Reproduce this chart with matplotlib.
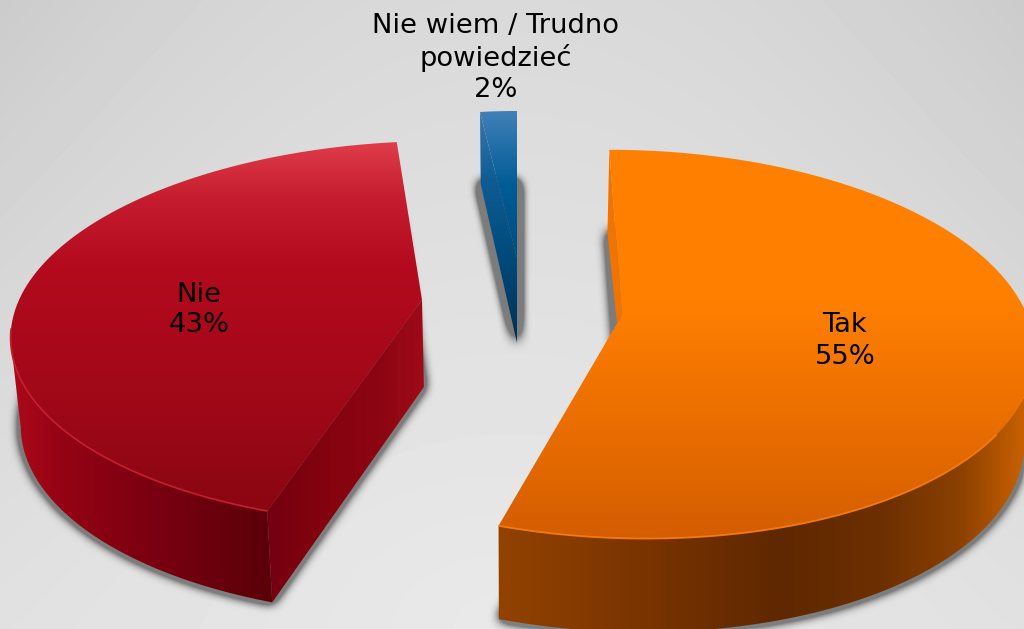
import numpy as np
import matplotlib
matplotlib.use('Agg')
import matplotlib.pyplot as plt
from matplotlib.colors import LinearSegmentedColormap
from matplotlib.patches import Polygon
from matplotlib.path import Path

# dane z wykresu
kategorie = ['Tak', 'Nie', 'Nie wiem / Trudno\npowiedzieć']
wartosci = [55, 43, 2]

W, H = 1024, 629
SRODEK_X = 517

# wyglad kawalkow: wierzcholek, promienie, perspektywa, pochylenie, grubosc, sila cienia
wyglad = [
    dict(apex=(622, 315), rx=405, ry=190, p=0.15, a=0.09, b=0.8e-4, d=88, q=0.06, c=4.0),
    dict(apex=(422, 300), rx=403, ry=186, p=0.17, a=-0.0777, b=2.29e-4, d=87, q=0.05, c=4.0),
    dict(apex=(517, 258), rx=345, ry=172, p=0.17, a=0.0, b=0.0, d=85, q=0.18, c=9.0),
]


def gora(t, g):
    c = np.cos(t)
    m = 1 + g['p'] * c
    dy = -g['ry'] * c / m
    dx = g['rx'] * np.sin(t) / m + g['a'] * dy + g['b'] * dy * dy
    return g['apex'][0] + dx, g['apex'][1] + dy


def dol(x, y, t, g):
    xd = SRODEK_X + (x - SRODEK_X) * 0.98
    yd = y + g['d'] / (1 + g['q'] * np.cos(t))
    return xd, yd


def gradient(ax, wielokat, os_, stopnie):
    # stopnie: [(pozycja w pikselach, kolor), ...]
    poz = np.array([a for a, b in stopnie], dtype=float)
    n = (poz - poz[0]) / (poz[-1] - poz[0])
    cmap = LinearSegmentedColormap.from_list('g', list(zip(n, [b for a, b in stopnie])))
    if os_ == 'y':
        obraz = np.linspace(0, 1, 256).reshape(-1, 1)
        ext = (0, W, poz[-1], poz[0])
    else:
        obraz = np.linspace(0, 1, 256).reshape(1, -1)
        ext = (poz[0], poz[-1], H, 0)
    im = ax.imshow(obraz, cmap=cmap, extent=ext, aspect='auto', vmin=0, vmax=1,
                   interpolation='bilinear', origin='upper')
    patch = Polygon(wielokat, closed=True, transform=ax.transData, fc='none', ec='none')
    ax.add_patch(patch)
    im.set_clip_path(patch)


def rozmycie(a, r):
    for _ in range(3):
        for os_ in (0, 1):
            k = np.cumsum(a, axis=os_)
            k = np.insert(k, 0, 0, axis=os_)
            n = a.shape[os_]
            i1 = np.clip(np.arange(n) + r + 1, 0, n)
            i0 = np.clip(np.arange(n) - r, 0, n)
            a = (np.take(k, i1, axis=os_) - np.take(k, i0, axis=os_)) / (2 * r + 1)
    return a


fig = plt.figure(figsize=(W / 100, H / 100), dpi=100)
ax = fig.add_axes([0, 0, 1, 1])

# tlo
yy, xx = np.mgrid[0:H, 0:W]
odl = np.hypot((xx - 512) / 1.6, yy - 629)
tlo = 233 - 0.025 * odl - 12 * ((xx - 512) / 512) ** 2 * (1 - yy / 629)
ax.imshow(tlo / 255, cmap='gray', vmin=0, vmax=1, extent=(0, W, H, 0), aspect='auto')

# katy kawalkow liczone z wartosci
udzial = np.array(wartosci) / sum(wartosci) * 2 * np.pi
konce = np.cumsum(udzial)
poczatki = konce - udzial

punkty = []
for i in range(3):
    t = np.linspace(poczatki[i], konce[i], 240)
    g = wyglad[i]
    x, y = gora(t, g)
    xd, yd = dol(x, y, t, g)
    ax_ = g['apex'][0]
    ay = g['apex'][1]
    axd, ayd = dol(np.array([ax_]), np.array([ay]), np.array([np.pi / 2]), g)
    punkty.append(dict(t=t, x=x, y=y, xd=xd, yd=yd, ax=ax_, ay=ay, axd=axd[0], ayd=ayd[0]))

# cienie pod kawalkami
siatka = np.column_stack([xx.ravel() + 0.5, yy.ravel() + 0.5])
alfa = np.zeros((H, W))
for k, g in zip(punkty, wyglad):
    pts = np.vstack([[k['axd'], k['ayd']], np.column_stack([k['xd'], k['yd']]), [k['axd'], k['ayd']]])
    maska = Path(pts, closed=True).contains_points(siatka).reshape(H, W).astype(float)
    alfa = np.maximum(alfa, np.clip(rozmycie(maska, 5) * g['c'], 0, 1) * 0.62)
rgba = np.zeros((H, W, 4))
rgba[..., :3] = 0.25
rgba[..., 3] = alfa
ax.imshow(rgba, extent=(0, W, H, 0), aspect='auto', interpolation='bilinear')

# Tak
k = punkty[0]
pk = (k['ax'] + 0.04 * (k['x'][-1] - k['ax']), k['ay'] + 0.04 * (k['y'][-1] - k['ay']))
sc = np.array([[k['x'][0], k['y'][0]], [k['ax'], k['ay']], pk, [k['xd'][0], k['yd'][0]]])
ax.add_patch(Polygon(sc, closed=True, fc='#F27400', ec='none'))
j = np.argmax(k['x'])
sc = np.vstack([np.column_stack([k['x'][j:], k['y'][j:]]), np.column_stack([k['xd'][j:], k['yd'][j:]])[::-1]])
gradient(ax, sc, 'x', [(480, '#954400'), (640, '#7A3400'), (780, '#5F2800'), (880, '#6C2F00'),
                       (960, '#8A4000'), (1024, '#C86000')])
sc = np.vstack([[k['ax'], k['ay']], np.column_stack([k['x'], k['y']])])
gradient(ax, sc, 'y', [(140, '#FF8000'), (300, '#FF8000'), (400, '#EE7100'), (540, '#D55D00')])
m = (k['t'] > np.radians(125))
ax.plot(k['x'][m], k['y'][m], color='#F47A10', lw=1.3, solid_capstyle='butt')

# Nie
k = punkty[1]
j = np.argmin(k['x'])
sc = np.vstack([np.column_stack([k['x'][:j], k['y'][:j]]), np.column_stack([k['xd'][:j], k['yd'][:j]])[::-1]])
gradient(ax, sc, 'x', [(5, '#B00A1C'), (60, '#950314'), (160, '#780010'), (275, '#5A0008')])
sc = np.column_stack([[k['ax'], k['x'][0], k['xd'][0], k['axd']], [k['ay'], k['y'][0], k['yd'][0], k['ayd']]])
gradient(ax, sc, 'x', [(262, '#720010'), (330, '#85030F'), (380, '#8C0512'), (426, '#A00A18')])
sc = np.vstack([[k['ax'], k['ay']], np.column_stack([k['x'], k['y']])])
gradient(ax, sc, 'y', [(142, '#E03C4A'), (200, '#C41C2E'), (265, '#B40A1E'), (400, '#A00818'), (512, '#8A0612')])
m = (k['t'] < np.radians(262))
ax.plot(k['x'][m], k['y'][m], color='#C42030', lw=1.2, solid_capstyle='butt')

# Nie wiem
k = punkty[2]
sc = np.vstack([[k['ax'], k['ay']], np.column_stack([k['x'], k['y']])])
bok = np.column_stack([[k['x'][0], k['ax'], k['axd'], k['xd'][0]], [k['y'][0], k['ay'], k['ayd'], k['yd'][0]]])
gradient(ax, bok, 'y', [(111, '#3A78AE'), (180, '#0F5C94'), (260, '#004A7A'), (345, '#002F55')])
prawy = np.column_stack([[k['x'][-1], k['ax'], k['axd'], k['xd'][-1]], [k['y'][-1], k['ay'], k['ayd'], k['yd'][-1]]])
gradient(ax, prawy, 'y', [(111, '#4180B8'), (185, '#005C96'), (260, '#00487A'), (345, '#002F55')])
gradient(ax, sc, 'y', [(111, '#4180B8'), (185, '#005C96'), (260, '#004C80')])

# etykiety
for kat, wart, px, py in [(kategorie[0], wartosci[0], 845, 341), (kategorie[1], wartosci[1], 199, 310),
                          (kategorie[2], wartosci[2], 496, 58)]:
    ax.text(px, py, '%s\n%d%%' % (kat, wart), ha='center', va='center', fontsize=19.7,
            family='DejaVu Sans', color='black', linespacing=1.25)

ax.set_xlim(0, W)
ax.set_ylim(H, 0)
ax.axis('off')
fig.savefig('out.png', dpi=100)
